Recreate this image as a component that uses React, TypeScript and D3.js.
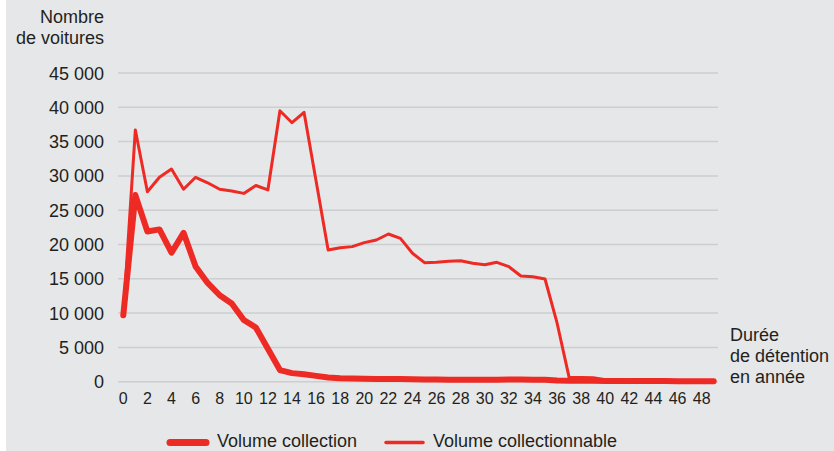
import * as d3 from "d3";

const years = [
  0, 1, 2, 3, 4, 5, 6, 7, 8, 9, 10, 11, 12, 13, 14, 15, 16, 17, 18, 19, 20, 21,
  22, 23, 24, 25, 26, 27, 28, 29, 30, 31, 32, 33, 34, 35, 36, 37, 38, 39, 40,
  41, 42, 43, 44, 45, 46, 47, 48, 49,
];

const volumeCollection = [
  9700, 27200, 21900, 22200, 18800, 21700, 16800, 14400, 12600, 11400, 9000,
  7900, 4800, 1700, 1250, 1080, 850, 620, 520, 470, 430, 410, 400, 380, 340,
  320, 310, 300, 300, 290, 290, 300, 310, 310, 300, 270, 180, 140, 140, 130,
  120, 110, 100, 100, 90, 90, 80, 80, 80, 80,
];

const volumeCollectionnable = [
  9700, 36700, 27700, 29800, 31000, 28050, 29800, 29000, 28050, 27800, 27450,
  28600, 27950, 39500, 37750, 39270, 29240, 19200, 19540, 19690, 20270, 20660,
  21530, 20900, 18720, 17350, 17400, 17550, 17640, 17260, 17060, 17400, 16770,
  15410, 15310, 14970, 8560, 640, 620, 580, 300, 220, 180, 150, 140, 130, 120,
  110, 100, 100,
];

const yTicks = [0, 5000, 10000, 15000, 20000, 25000, 30000, 35000, 40000, 45000];
const xTicks = years.filter((d) => d % 2 === 0 && d <= 48);

const legendLabels = ["Volume collection", "Volume collectionnable"];

const W = 834;
const H = 451;
const RED = "#ee2a24";
const TEXT = "#231f20";
const FONT = "'Liberation Sans', Arial, Helvetica, sans-serif";

const fmt = d3.formatLocale({
  decimal: ",",
  thousands: " ",
  grouping: [3],
  currency: ["", ""],
}).format(",");

export default function App() {
  const x = d3.scaleLinear().domain([0, 49]).range([123.3, 713.7]);
  const y = d3.scaleLinear().domain([0, 45000]).range([381.7, 73]);

  const line = d3
    .line<number>()
    .x((_, i) => x(years[i]))
    .y((d) => y(d));

  return (
    <div style={{ position: "absolute", top: 0, left: 0 }}>
      <svg width={W} height={H} style={{ display: "block" }} fontFamily={FONT}>
        <rect x={0} y={0} width={W} height={H} fill="#ffffff" />
        <rect x={6} y={0} width={W - 6} height={H} fill="#e6e7e9" />

        {/* grid + y labels */}
        {yTicks.map((t) => (
          <g key={t}>
            <line
              x1={118}
              x2={718}
              y1={y(t)}
              y2={y(t)}
              stroke="#cdced0"
              strokeWidth={1.5}
            />
            <text
              x={104}
              y={y(t) + 6.5}
              textAnchor="end"
              fontSize={18}
              fill={TEXT}
            >
              {fmt(t)}
            </text>
          </g>
        ))}

        {/* x labels */}
        {xTicks.map((t) => (
          <text
            key={t}
            x={x(t)}
            y={404}
            textAnchor="middle"
            fontSize={16}
            fill={TEXT}
          >
            {t}
          </text>
        ))}

        <path
          d={line(volumeCollection) ?? ""}
          fill="none"
          stroke={RED}
          strokeWidth={6}
          strokeLinejoin="round"
          strokeLinecap="round"
        />
        <path
          d={line(volumeCollectionnable) ?? ""}
          fill="none"
          stroke={RED}
          strokeWidth={3}
          strokeLinejoin="round"
          strokeLinecap="round"
        />

        {/* axis titles */}
        <text x={104} y={23} textAnchor="end" fontSize={18} fill={TEXT}>
          Nombre
        </text>
        <text x={104} y={44} textAnchor="end" fontSize={18} fill={TEXT}>
          de voitures
        </text>
        <text x={730} y={341} fontSize={18} fill={TEXT}>
          Durée
        </text>
        <text x={730} y={362} fontSize={18} fill={TEXT}>
          de détention
        </text>
        <text x={730} y={383} fontSize={18} fill={TEXT}>
          en année
        </text>

        {/* legend */}
        <line
          x1={170}
          x2={206}
          y1={442.5}
          y2={442.5}
          stroke={RED}
          strokeWidth={7}
          strokeLinecap="round"
        />
        <text x={217} y={447} fontSize={18} fill={TEXT}>
          {legendLabels[0]}
        </text>
        <line
          x1={386}
          x2={423}
          y1={442.5}
          y2={442.5}
          stroke={RED}
          strokeWidth={3.5}
          strokeLinecap="round"
        />
        <text x={433} y={447} fontSize={18} fill={TEXT}>
          {legendLabels[1]}
        </text>
      </svg>
    </div>
  );
}
